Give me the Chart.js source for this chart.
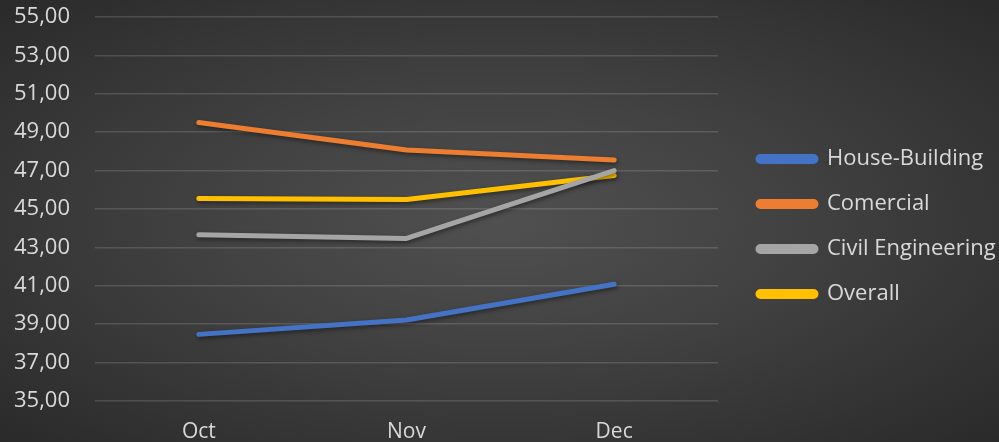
<!DOCTYPE html>
<html lang="en">
<head>
  <meta charset="UTF-8" />
  <title>Index by sector</title>
  <script src="https://cdn.jsdelivr.net/npm/chart.js"></script>
  <style>
    html, body { margin: 0; padding: 0; }
    body {
      width: 999px;
      height: 442px;
      overflow: hidden;
      background: radial-gradient(ellipse at 50% 50%, #505050 0%, #424242 40%, #2a2a2a 100%);
    }
    canvas { display: block; }
  </style>
</head>
<body>
  <canvas id="sectorChart" width="999" height="442"></canvas>

  <script>
    // months on the x axis
    const months = ['Oct', 'Nov', 'Dec'];

    // series values
    const houseBuilding = [38.47, 39.22, 41.08];
    const comercial = [49.5, 48.07, 47.55];
    const civilEngineering = [43.66, 43.47, 47.0];
    const overall = [45.55, 45.5, 46.75];

    const yMin = 35;
    const yMax = 55;
    const yStep = 2;

    const textColor = '#d9d9d9';

    // soft shadow under the lines, like the office chart
    const lineShadow = {
      id: 'lineShadow',
      beforeDatasetsDraw(chart) {
        const ctx = chart.ctx;
        ctx.save();
        ctx.shadowColor = 'rgba(0,0,0,0.45)';
        ctx.shadowBlur = 4;
        ctx.shadowOffsetX = 1;
        ctx.shadowOffsetY = 2;
      },
      afterDatasetsDraw(chart) {
        chart.ctx.restore();
      }
    };

    // legend gets a fixed column on the right, items nudged to sit like the original
    const legendSpot = {
      id: 'legendSpot',
      afterInit(chart) {
        const legend = chart.legend;
        const fit = legend.fit;
        legend.fit = function () {
          fit.call(this);
          this.width = 281;
        };
      },
      afterLayout(chart) {
        const legend = chart.legend;
        legend.left += 17;
        legend.right += 17;
        legend.top -= 3;
        legend.bottom -= 3;
      }
    };

    function series(label, data, color) {
      return {
        label: label,
        data: data,
        borderColor: color,
        backgroundColor: color,
        borderWidth: 5,
        borderCapStyle: 'round',
        borderJoinStyle: 'round',
        pointRadius: 0,
        pointHoverRadius: 0,
        tension: 0,
        fill: false
      };
    }

    const ctx = document.getElementById('sectorChart').getContext('2d');
    const sectorChart = new Chart(ctx, {
      type: 'line',
      data: {
        labels: months,
        datasets: [
          series('House-Building', houseBuilding, '#4472c4'),
          series('Comercial', comercial, '#ed7d31'),
          series('Civil Engineering', civilEngineering, '#a5a5a5'),
          series('Overall', overall, '#ffc000')
        ]
      },
      options: {
        responsive: false,
        animation: false,
        layout: { padding: { top: 17, bottom: 0, left: 0, right: 0 } },
        scales: {
          x: {
            offset: true,
            grid: { display: false, drawTicks: false },
            border: { display: false },
            ticks: {
              color: textColor,
              padding: 18,
              font: { family: 'Open Sans', size: 21 }
            },
            afterFit(scale) {
              scale.height = 41;
              scale.paddingLeft = 0;
              scale.paddingRight = 0;
            }
          },
          y: {
            min: yMin,
            max: yMax,
            grid: { color: 'rgba(255,255,255,0.14)', lineWidth: 1.5, drawTicks: false },
            border: { display: false },
            ticks: {
              stepSize: yStep,
              color: textColor,
              padding: 25,
              font: { family: 'Open Sans', size: 22 },
              callback: (v) => v.toFixed(2).replace('.', ',')
            },
            afterFit(scale) {
              scale.width = 95;
              scale.paddingTop = 0;
              scale.paddingBottom = 0;
            }
          }
        },
        plugins: {
          tooltip: { enabled: false },
          legend: {
            position: 'right',
            labels: {
              color: textColor,
              boxWidth: 58,
              boxHeight: 5,
              useBorderRadius: true,
              borderRadius: 2.5,
              padding: 23,
              font: { family: 'Open Sans', size: 22 }
            }
          }
        }
      },
      plugins: [lineShadow, legendSpot]
    });
  </script>
</body>
</html>
